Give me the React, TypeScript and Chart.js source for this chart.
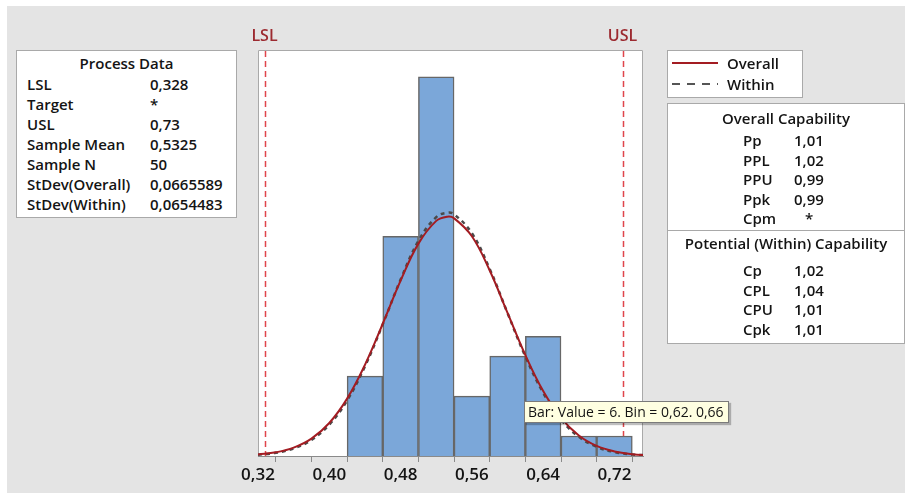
import React, { useEffect, useRef } from 'react';
import { Chart, registerables } from 'chart.js';

Chart.register(...registerables);

// ---- Data ----
const binCenters = [0.44, 0.48, 0.52, 0.56, 0.6, 0.64, 0.68, 0.72];
const binCounts = [4, 11, 19, 3, 5, 6, 1, 1];

const curveX = [0.32, 0.34, 0.36, 0.38, 0.4, 0.42, 0.44, 0.46, 0.48, 0.5, 0.52, 0.5325, 0.54, 0.56, 0.58, 0.6, 0.62, 0.64, 0.66, 0.68, 0.7, 0.72, 0.74, 0.76];
const overallCurve = [0.073, 0.183, 0.417, 0.869, 1.653, 2.874, 4.565, 6.625, 8.784, 10.64, 11.78, 11.99, 11.91, 11.01, 9.295, 7.17, 5.053, 3.254, 1.914, 1.029, 0.505, 0.227, 0.093, 0.035];
const withinCurve = [0.063, 0.161, 0.378, 0.807, 1.571, 2.783, 4.491, 6.6, 8.837, 10.777, 11.97, 12.19, 12.11, 11.16, 9.368, 7.162, 4.987, 3.164, 1.828, 0.962, 0.461, 0.201, 0.08, 0.029];

const LSL = 0.328;
const USL = 0.73;
const xMin = 0.32;
const xMax = 0.752;
const yMax = 20.34;
const tickStep = 0.04;

const processLabels = ['LSL', 'Target', 'USL', 'Sample Mean', 'Sample N', 'StDev(Overall)', 'StDev(Within)'];
const processValues = ['0,328', '*', '0,73', '0,5325', '50', '0,0665589', '0,0654483'];

const overallLabels = ['Pp', 'PPL', 'PPU', 'Ppk', 'Cpm'];
const overallValues = ['1,01', '1,02', '0,99', '0,99', '*'];

const withinLabels = ['Cp', 'CPL', 'CPU', 'Cpk'];
const withinValues = ['1,02', '1,04', '1,01', '1,01'];

const tooltipText = 'Bar: Value = 6. Bin = 0,62. 0,66';

const FONT = '"Open Sans", "Noto Sans", sans-serif';
const TEXT = '#141414';

const framePlugin = {
  id: 'frame',
  beforeDraw(chart: any) {
    const { ctx, chartArea: a } = chart;
    ctx.save();
    ctx.fillStyle = '#ffffff';
    ctx.fillRect(a.left, a.top, a.right - a.left, a.bottom - a.top);
    ctx.strokeStyle = '#a9a9a9';
    ctx.lineWidth = 1;
    ctx.beginPath();
    ctx.moveTo(a.left + 0.5, a.bottom);
    ctx.lineTo(a.left + 0.5, a.top + 0.5);
    ctx.lineTo(a.right - 0.5, a.top + 0.5);
    ctx.lineTo(a.right - 0.5, a.bottom);
    ctx.stroke();
    ctx.restore();
  },
  beforeDatasetsDraw(chart: any) {
    const { ctx, chartArea: a } = chart;
    const xs = chart.scales.x;
    ctx.save();
    const specs: [number, string][] = [[LSL, 'LSL'], [USL, 'USL']];
    for (const [v, name] of specs) {
      const px = Math.round(xs.getPixelForValue(v)) + 0.5;
      ctx.strokeStyle = '#e0454b';
      ctx.lineWidth = 1.5;
      ctx.setLineDash([6, 4]);
      ctx.beginPath();
      ctx.moveTo(px, a.top + 1);
      ctx.lineTo(px, a.bottom);
      ctx.stroke();
      ctx.setLineDash([]);
      ctx.fillStyle = '#9c2a30';
      ctx.font = `600 16px ${FONT}`;
      ctx.textAlign = 'center';
      ctx.textBaseline = 'middle';
      ctx.fillText(name, px - 1, 36);
    }
    ctx.restore();
  },
};

const row = (top: number, left: number, text: string, extra: React.CSSProperties = {}) => (
  <div
    style={{
      position: 'absolute',
      top: top - 10,
      left,
      height: 20,
      lineHeight: '20px',
      whiteSpace: 'nowrap',
      ...extra,
    }}
  >
    {text}
  </div>
);

export default function App() {
  const ref = useRef<HTMLCanvasElement>(null);

  useEffect(() => {
    document.body.style.margin = '0';
    const chart = new Chart(ref.current as HTMLCanvasElement, {
      type: 'bar',
      data: {
        datasets: [
          {
            type: 'line',
            label: 'Overall',
            data: curveX.map((x, i) => ({ x, y: overallCurve[i] })),
            borderColor: '#a31c22',
            borderWidth: 2,
            pointRadius: 0,
            tension: 0.4,
            order: 1,
          } as any,
          {
            type: 'line',
            label: 'Within',
            data: curveX.map((x, i) => ({ x, y: withinCurve[i] })),
            borderColor: '#4a4a4a',
            borderWidth: 2.5,
            borderDash: [4, 4],
            pointRadius: 0,
            tension: 0.4,
            order: 2,
          } as any,
          {
            type: 'bar',
            label: 'Bins',
            data: binCenters.map((x, i) => ({ x, y: binCounts[i] })),
            backgroundColor: '#7ba7d9',
            borderColor: '#676767',
            borderWidth: 1.5,
            barPercentage: 1,
            categoryPercentage: 1,
            order: 3,
          } as any,
        ],
      },
      options: {
        responsive: false,
        animation: false,
        layout: { padding: { left: 258, right: 262, top: 50, bottom: 0 } },
        plugins: { legend: { display: false }, tooltip: { enabled: false } },
        scales: {
          x: {
            type: 'linear',
            min: xMin,
            max: xMax,
            offset: false,
            grid: { display: true, drawOnChartArea: false, drawTicks: true, tickLength: 6, color: '#8a8a8a' },
            border: { display: true, color: '#8a8a8a' },
            ticks: {
              stepSize: tickStep,
              includeBounds: false,
              autoSkip: false,
              maxRotation: 0,
              padding: 3,
              color: TEXT,
              font: { family: FONT, size: 17, weight: '600' },
              callback: (value: any) => {
                const v = Number(value);
                const k = Math.round((v - xMin) / tickStep);
                return k % 2 === 0 ? v.toFixed(2).replace('.', ',') : '';
              },
            },
            afterFit: (s: any) => {
              s.height = 37;
            },
          } as any,
          y: { display: false, min: 0, max: yMax },
        },
      },
      plugins: [framePlugin],
    });
    return () => chart.destroy();
  }, []);

  return (
    <div style={{ position: 'relative', width: 905, height: 493, overflow: 'hidden', fontFamily: FONT, fontSize: 15, fontWeight: 600, color: TEXT, background: '#ffffff' }}>
      <div style={{ position: 'absolute', left: 7, top: 6, width: 898, height: 487, background: '#e4e4e4' }} />
      <canvas ref={ref} width={905} height={493} style={{ position: 'absolute', left: 0, top: 0, width: 905, height: 493 }} />

      {/* Process Data */}
      <div style={{ position: 'absolute', left: 16, top: 50, width: 219, height: 166, background: '#fff', border: '1px solid #a9a9a9' }} />
      {row(63, 16, 'Process Data', { width: 221, textAlign: 'center' })}
      {processLabels.map((l, i) => (
        <React.Fragment key={l}>
          {row(84 + i * 20, 27, l)}
          {row(84 + i * 20, 150, processValues[i])}
        </React.Fragment>
      ))}

      {/* Legend */}
      <div style={{ position: 'absolute', left: 667, top: 50, width: 134, height: 46, background: '#fff', border: '1px solid #a9a9a9' }} />
      <div style={{ position: 'absolute', left: 672, top: 62, width: 46, height: 2, background: '#a31c22' }} />
      <div style={{ position: 'absolute', left: 672, top: 83, width: 46, height: 2, backgroundImage: 'repeating-linear-gradient(to right, #555 0 8px, transparent 8px 15px)' }} />
      {row(63, 727, 'Overall')}
      {row(84, 727, 'Within')}

      {/* Capability */}
      <div style={{ position: 'absolute', left: 667, top: 103, width: 236, height: 239, background: '#fff', border: '1px solid #a9a9a9' }} />
      <div style={{ position: 'absolute', left: 668, top: 230, width: 236, height: 1, background: '#a9a9a9' }} />
      {row(118, 667, 'Overall Capability', { width: 238, textAlign: 'center' })}
      {overallLabels.map((l, i) => (
        <React.Fragment key={l}>
          {row(140 + i * 19.5, 743, l)}
          {row(140 + i * 19.5, overallValues[i] === '*' ? 805 : 794, overallValues[i])}
        </React.Fragment>
      ))}
      {row(243, 667, 'Potential (Within) Capability', { width: 238, textAlign: 'center' })}
      {withinLabels.map((l, i) => (
        <React.Fragment key={l}>
          {row(270 + i * 19.5, 743, l)}
          {row(270 + i * 19.5, 794, withinValues[i])}
        </React.Fragment>
      ))}

      {/* Hover tooltip */}
      <div
        style={{
          position: 'absolute',
          left: 524,
          top: 401,
          width: 200,
          height: 20,
          lineHeight: '20px',
          paddingLeft: 3,
          background: '#ffffe1',
          border: '1px solid #7a7a7a',
          boxShadow: '2px 2px 1px rgba(0,0,0,0.25)',
          fontSize: 14,
          fontWeight: 500,
          whiteSpace: 'nowrap',
          boxSizing: 'content-box',
        }}
      >
        {tooltipText}
      </div>
    </div>
  );
}
